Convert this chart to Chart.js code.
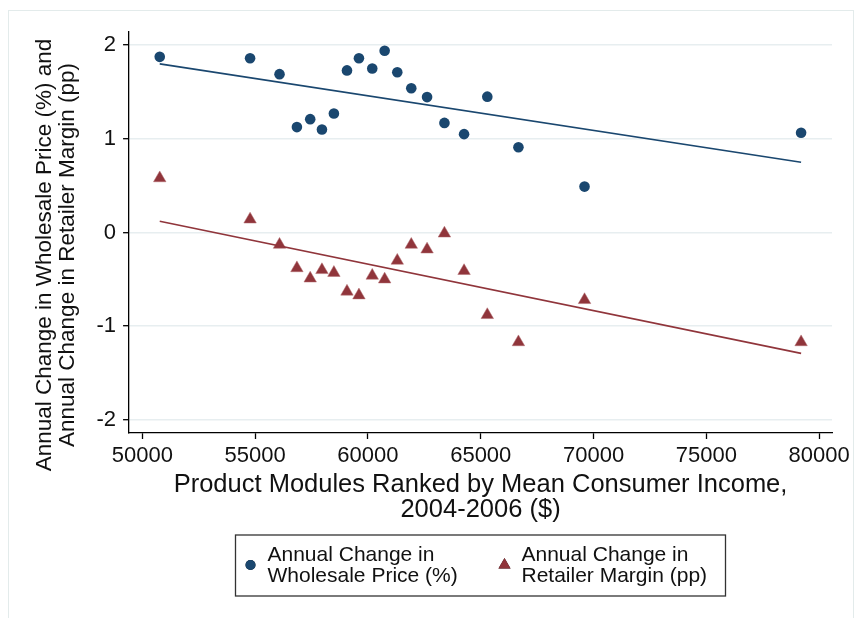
<!DOCTYPE html>
<html>
<head>
<meta charset="utf-8">
<script src="https://cdn.jsdelivr.net/npm/chart.js@4"></script>
<style>
  html, body { margin: 0; padding: 0; background: #fff; }
  #wrap { width: 854px; height: 618px; }
</style>
</head>
<body>
<div id="wrap"><canvas id="chart" width="854" height="618"></canvas></div>
<script>
// product modules: mean consumer income (x)
const income = [50770, 54775, 56080, 56850, 57440, 57960, 58490, 59070, 59600, 60190,
                60740, 61300, 61920, 62620, 63390, 64260, 65290, 66670, 69600, 79200];
// annual change in wholesale price (%)
const wholesale = [1.875, 1.86, 1.69, 1.125, 1.21, 1.10, 1.27, 1.73, 1.86, 1.75,
                   1.94, 1.71, 1.54, 1.445, 1.17, 1.05, 1.45, 0.91, 0.49, 1.065];
// annual change in retailer margin (pp)
const margin = [0.58, 0.14, -0.13, -0.38, -0.49, -0.40, -0.43, -0.63, -0.67, -0.46,
                -0.50, -0.30, -0.13, -0.18, -0.01, -0.41, -0.88, -1.17, -0.72, -1.17];
// fitted lines, at min and max income
const fitIncome = [50770, 79200];
const wholesaleFit = [1.80, 0.75];
const marginFit = [0.12, -1.29];

const xTicks = [50000, 55000, 60000, 65000, 70000, 75000, 80000];
const yTicks = [-2, -1, 0, 1, 2];
const yTitle = ['Annual Change in Wholesale Price (%) and', 'Annual Change in Retailer Margin (pp)'];

const navy = '#1a476f';
const maroon = '#90353b';
const font = '"Liberation Sans", Arial, sans-serif';

const toPts = (xs, ys) => xs.map((x, i) => ({ x: x, y: ys[i] }));

// stata style frame, y title (it sits lower than centre) and legend box
const stataBits = {
    id: 'stataBits',
    beforeDraw(chart) {
        const ctx = chart.ctx;
        ctx.save();
        ctx.fillStyle = '#fff';
        ctx.fillRect(0, 0, chart.width, chart.height);
        ctx.strokeStyle = '#e3ebeb';
        ctx.lineWidth = 1;
        ctx.strokeRect(8.5, 10.5, 845, 640);
        ctx.restore();
    },
    afterDraw(chart) {
        const ctx = chart.ctx;
        ctx.save();

        // y title
        ctx.fillStyle = '#111';
        ctx.font = '22.5px ' + font;
        ctx.textAlign = 'center';
        ctx.textBaseline = 'middle';
        yTitle.forEach((t, i) => {
            ctx.save();
            ctx.translate(45 + i * 23, 255);
            ctx.rotate(-Math.PI / 2);
            ctx.fillText(t, 0, 0);
            ctx.restore();
        });

        // legend
        const top = chart.height - 83;
        const w = 490, h = 61;
        const left = 235.5;
        ctx.strokeStyle = '#333';
        ctx.lineWidth = 1.3;
        ctx.strokeRect(left, top, w, h);

        const items = [
            { ds: chart.data.datasets[0], off: 15, r: 5, lines: ['Annual Change in', 'Wholesale Price (%)'] },
            { ds: chart.data.datasets[1], off: 269, r: 7, lines: ['Annual Change in', 'Retailer Margin (pp)'] }
        ];
        ctx.font = '21px ' + font;
        ctx.textAlign = 'left';
        items.forEach(it => {
            Chart.helpers.drawPoint(ctx, {
                pointStyle: it.ds.pointStyle, radius: it.r, rotation: 0, borderWidth: 0
            }, left + it.off, top + 30);
            ctx.fillStyle = it.ds.pointBackgroundColor;
            ctx.fill();
            ctx.fillStyle = '#111';
            ctx.fillText(it.lines[0], left + it.off + 17, top + 20);
            ctx.fillText(it.lines[1], left + it.off + 17, top + 41);
        });
        ctx.restore();
    }
};

const chart = new Chart(document.getElementById('chart'), {
    type: 'scatter',
    data: {
        datasets: [
            {
                label: 'Annual Change in Wholesale Price (%)',
                data: toPts(income, wholesale),
                pointStyle: 'circle',
                pointRadius: 5.3,
                pointBackgroundColor: navy,
                pointBorderColor: navy,
                pointBorderWidth: 0,
                order: 2
            },
            {
                label: 'Annual Change in Retailer Margin (pp)',
                data: toPts(income, margin),
                pointStyle: 'triangle',
                pointRadius: 7.2,
                pointBackgroundColor: maroon,
                pointBorderColor: '#b06a6e',
                pointBorderWidth: 0.5,
                order: 2
            },
            {
                type: 'line',
                data: toPts(fitIncome, wholesaleFit),
                borderColor: navy,
                borderWidth: 1.6,
                pointRadius: 0,
                order: 1
            },
            {
                type: 'line',
                data: toPts(fitIncome, marginFit),
                borderColor: maroon,
                borderWidth: 1.6,
                pointRadius: 0,
                order: 1
            }
        ]
    },
    options: {
        responsive: false,
        animation: false,
        layout: { padding: { left: 89.5, right: 22, top: 32, bottom: 95.5 } },
        plugins: {
            legend: { display: false },
            tooltip: { enabled: false }
        },
        scales: {
            x: {
                type: 'linear',
                min: 49410,
                max: 80570,
                afterBuildTicks: s => { s.ticks = xTicks.map(v => ({ value: v })); },
                afterFit: s => { s.paddingLeft = 0; s.paddingRight = 0; },
                border: { display: true, color: '#000', width: 1.3 },
                grid: { drawOnChartArea: false, tickColor: '#000', tickLength: 6, tickWidth: 1.3 },
                ticks: {
                    color: '#111',
                    padding: 7.7,
                    maxRotation: 0,
                    autoSkip: false,
                    font: { family: font, size: 22, lineHeight: 0.8 },
                    callback: v => String(v)
                },
                title: {
                    display: true,
                    text: ['Product Modules Ranked by Mean Consumer Income,', '2004-2006 ($)'],
                    color: '#111',
                    padding: { top: 0, bottom: 0 },
                    font: { family: font, size: 25.5, lineHeight: 0.99 }
                }
            },
            y: {
                min: -2.14,
                max: 2.14,
                afterBuildTicks: s => { s.ticks = yTicks.map(v => ({ value: v })); },
                border: { display: true, color: '#000', width: 1.3 },
                grid: { color: '#e7eef0', lineWidth: 1.4, tickColor: '#000', tickLength: 6, tickWidth: 1.3 },
                ticks: {
                    color: '#111',
                    padding: 7,
                    font: { family: font, size: 22 },
                    callback: v => String(v)
                },
                title: { display: false }
            }
        }
    },
    plugins: [stataBits]
});
</script>
</body>
</html>
